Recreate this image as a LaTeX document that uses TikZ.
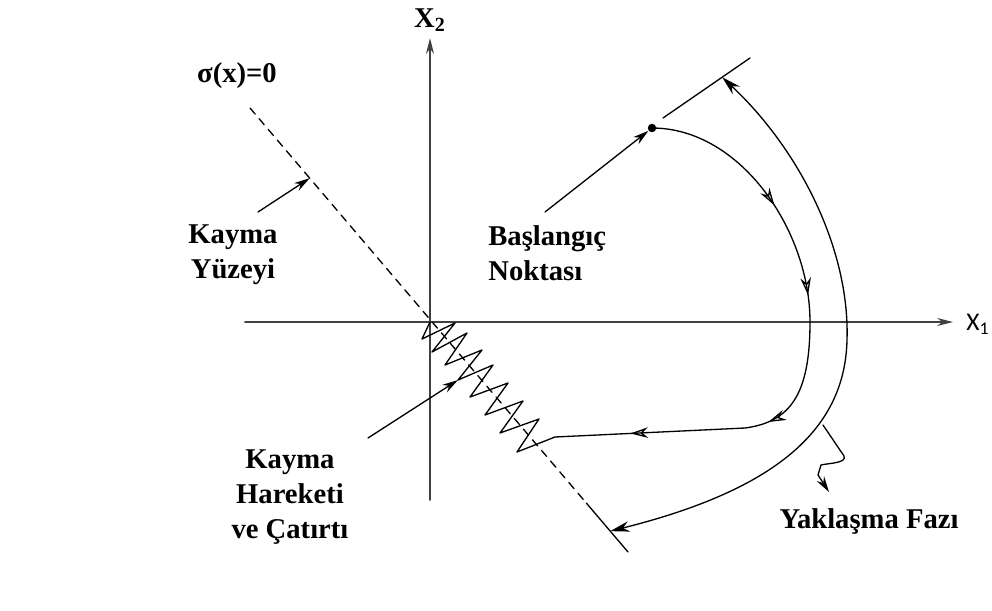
\documentclass[tikz,border=0pt]{standalone}
\usepackage{fontspec}
\setmainfont{Liberation Serif}
\newfontfamily\axfont{Carlito}
\usetikzlibrary{arrows.meta,calc,decorations.markings}

\begin{document}
\begin{tikzpicture}[
    x=0.02cm, y=-0.02cm,
    line cap=round,
    line join=round,
    axis/.style={draw=black!75, line width=1.1pt, -{Stealth[length=9pt,width=4.5pt]}},
    surf/.style={draw=black, line width=0.75pt, dash pattern=on 4.5pt off 3.5pt},
    traj/.style={draw=black, line width=0.75pt},
    lead/.style={draw=black, line width=0.75pt, -{Stealth[length=9pt,width=5pt]}},
    oarr/.tip={Stealth[open,length=10pt,width=6pt]},
    dot/.style={circle, fill=black, inner sep=1.7pt},
    lbl/.style={font=\bfseries\fontsize{16.3}{20}\selectfont, align=center, inner sep=0pt}
]
\useasboundingbox (0,0) rectangle (992,610);

% axes
\coordinate (o) at (430,322);
\coordinate (xl) at (245,322);
\coordinate (xr) at (953,322);
\coordinate (yb) at (430,500);
\coordinate (yt) at (430,38);
\draw[axis] (xl) -- (xr);
\draw[axis] (yb) -- (yt);
\node[lbl] (x2) at (430,20) {X\textsubscript{2}};
\node[font=\axfont\fontsize{14.5}{14.5}\selectfont, inner sep=0pt] (x1) at (978,324) {X\textsubscript{1}};

% sliding surface
\coordinate (sA) at (250,108);
\coordinate (sB) at (628,552);
\coordinate (sC) at ($(sA)!0.89!(sB)$);
\coordinate (sY) at ($(sA)!0.158!(sB)$);
\coordinate (sL) at ($(sA)!0.953!(sB)$);
\draw[surf] (sA) -- (sC);
\draw[traj] (sC) -- (sB);
\node[lbl] (sigma) at (237,76) {σ(x)=0};

% tangent line at the start
\coordinate (tA) at (663,118);
\coordinate (tB) at (750,58);
\coordinate (tM) at ($(tA)!0.68!(tB)$);
\draw[traj] (tA) -- (tB);

% trajectory
\node[dot] (start) at (652,128) {};
\coordinate (cross) at (810,322);
\coordinate (bend) at (745,428);
\coordinate (zend) at (555,437);
\draw[traj, postaction={decorate}, decoration={markings,
    mark=at position 0.25 with {\arrow{oarr}},
    mark=at position 0.41 with {\arrow{oarr}},
    mark=at position 0.645 with {\arrow{oarr}},
    mark=at position 0.875 with {\arrow{oarr}}}]
  (start.center) .. controls (740,128) and (810,230) .. (cross)
  .. controls (810,395) and (790,422) .. (bend) -- (zend);

% chattering
\draw[traj] (zend) -- (517,452) -- (539,419) -- (500,433) -- (523,401)
  -- (485,415) -- (508,383) -- (470,397) -- (493,365) -- (458,380)
  -- (482,350) -- (445,365) -- (467,333) -- (432,352) -- (455,323)
  -- (422,339) -- (o);

% reaching phase
\coordinate (aM) at (847,340);
\draw[traj, {Stealth[length=11pt,width=6pt]}-{Stealth[length=11pt,width=6pt]}]
  (tM) .. controls (800,150) and (850,250) .. (aM)
  .. controls (845,430) and (775,490) .. (sL);

% labels and pointers
\node[lbl] (yuzey) at (233,255) {Kayma\\Yüzeyi};
\coordinate (yuzeyp) at (258,212);
\draw[lead] (yuzeyp) -- (sY);

\node[lbl, align=left, anchor=west] (basla) at (488,253) {Başlangıç\\Noktası};
\coordinate (baslap) at (545,212);
\draw[lead] (baslap) -- (start);

\node[lbl] (hareket) at (290,497) {Kayma\\Hareketi\\ve Çatırtı};
\coordinate (hareketp) at (368,438);
\coordinate (hareketq) at (458,380);
\draw[lead] (hareketp) -- (hareketq);

\node[lbl] (faz) at (869,522) {Yaklaşma Fazı};
\coordinate (fazp) at (823,425);
\coordinate (fazq) at (829,492);
\draw[lead] (fazp) -- (844,456) .. controls (847,463) and (830,463) .. (821,465)
  -- (818,475) -- (fazq);
\end{tikzpicture}
\end{document}
